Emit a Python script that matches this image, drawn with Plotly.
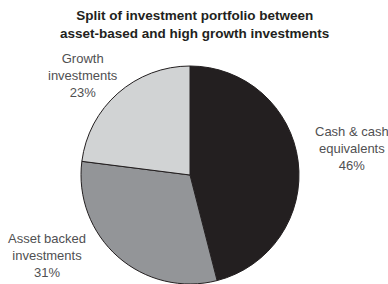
import plotly.graph_objects as go

categories = ["Cash & cash<br>equivalents", "Asset backed<br>investments", "Growth<br>investments"]
values = [46, 31, 23]
colors = ["#231f20", "#939598", "#d1d3d4"]

W, H = 388, 284

fig = go.Figure(go.Pie(
    labels=categories,
    values=values,
    sort=False,
    direction="clockwise",
    rotation=0,
    marker=dict(colors=colors, line=dict(color="#231f20", width=1)),
    textinfo="none",
    hoverinfo="label+percent",
    domain=dict(x=[78 / W, 302 / W], y=[0, 1 - 66 / H]),
    showlegend=False,
))

label_px = [(352, 148), (47, 255), (83, 75)]
for cat, v, (px, py) in zip(categories, values, label_px):
    fig.add_annotation(
        x=px / W, y=1 - py / H, xref="paper", yref="paper",
        text=f"{cat}<br>{v}%", showarrow=False,
        font=dict(family="Liberation Sans, Arial, sans-serif", size=13, color="#505052"),
        align="center", xanchor="center", yanchor="middle",
    )

fig.add_annotation(
    x=0.5, y=1 - 24 / H, xref="paper", yref="paper",
    text="<b>Split of investment portfolio between<br>asset-based and high growth investments</b>",
    showarrow=False, align="center", xanchor="center", yanchor="middle",
    font=dict(family="Liberation Sans, Arial, sans-serif", size=13.5, color="#231f20"),
)

fig.update_layout(
    width=W, height=H,
    margin=dict(l=0, r=0, t=0, b=0),
    paper_bgcolor="white", plot_bgcolor="white",
)

fig.write_html(
    "out.html",
    config={"displayModeBar": False},
    post_script="document.body.style.margin='0';document.body.style.overflow='hidden';",
)
